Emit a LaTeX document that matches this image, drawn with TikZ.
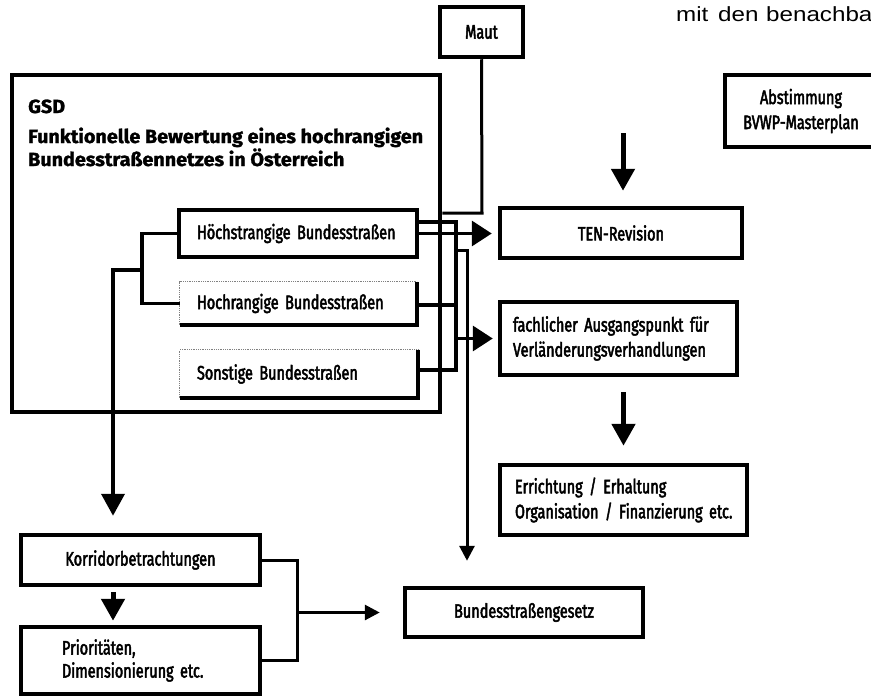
\documentclass[tikz,border=0pt]{standalone}
\usepackage{fontspec}
\setmainfont{Fira Sans}
\newfontfamily\diagfont[FakeStretch=0.74,FakeBold=2.5]{Fira Sans}
\newfontfamily\titlefont[FakeStretch=1.04,BoldFeatures={FakeBold=1.5}]{Fira Sans}
\newfontfamily\pagefont[FakeStretch=1.18]{Liberation Sans}
\newcommand\diagsize{\diagfont\fontsize{19.5}{25}\selectfont\spaceskip=4.5pt plus 1pt minus 1pt\relax}
\newcommand\diagsizetight{\diagfont\fontsize{19.5}{23}\selectfont\spaceskip=4.5pt plus 1pt minus 1pt\relax}
\usetikzlibrary{arrows.meta,calc}
\begin{document}
\begin{tikzpicture}[x=1pt,y=-1pt,
  box/.style={draw, line width=4.5pt, inner sep=0pt, font=\diagsize},
  openbox/.style={inner sep=0pt, font=\diagsize},
  frame/.style={line width=4.5pt},
  faint/.style={line width=0.8pt, densely dotted, gray},
  conn/.style={line width=3.5pt},
  bigarrow/.style={line width=5pt, -{Triangle[length=22pt,width=23pt]}},
  sidearrow/.style={line width=3.5pt, -{Triangle[length=20pt,width=25pt]}},
  smallarrow/.style={line width=3pt, -{Triangle[length=15pt,width=15pt]}},
  titletext/.style={anchor=base west, inner sep=0pt, font=\titlefont\bfseries\fontsize{19}{22}\selectfont}
]
\useasboundingbox (0,0) rectangle (871,696);

% page text at top right
\node[anchor=base west, inner sep=0pt, font=\pagefont\fontsize{20.5}{21}\selectfont] (pagetext) at (676,21) {\makebox[42pt][l]{mit}\makebox[48pt][l]{den}benachba};

% boxes
\node[box, minimum width=83pt, minimum height=50pt] (maut) at (481.5,32) {Maut};
\node[box, minimum width=152pt, minimum height=72pt, align=center] (abst) at (801,111) {Abstimmung\\BVWP-Masterplan};
\node[draw, line width=4.5pt, minimum width=428pt, minimum height=337pt, inner sep=0pt] (gsd) at (226,243.5) {};
\node[titletext] (gsdt) at (28,113) {GSD};
\node[titletext] (title1) at (28,143) {Funktionelle Bewertung eines hochrangigen};
\node[titletext] (title2) at (28,166) {Bundesstraßennetzes in Österreich};

\node[box, minimum width=238pt, minimum height=47pt, text width=202pt, inner xsep=18pt, align=left] (hs) at (298,233.5) {\mbox{Höchstrangige Bundesstraßen}};
\node[openbox, minimum width=237pt, minimum height=43pt, text width=203pt, inner xsep=17pt, align=left] (hr) at (298.5,303.5) {\mbox{Hochrangige Bundesstraßen}};
\node[openbox, minimum width=238pt, minimum height=48pt, text width=204pt, inner xsep=17pt, align=left] (so) at (299,374) {\mbox{Sonstige Bundesstraßen}};
\draw[frame] (hr.north east) -- (hr.south east) -- (hr.south west);
\draw[faint] (hr.south west) -- (hr.north west) -- (hr.north east);
\draw[frame] (so.north east) -- (so.south east) -- (so.south west);
\draw[faint] (so.south west) -- (so.north west) -- (so.north east);

\node[box, minimum width=242pt, minimum height=50pt] (ten) at (621,233) {TEN-Revision};
\node[box, minimum width=237pt, minimum height=73pt, text width=211pt, inner xsep=13pt, align=left] (fa) at (618.5,338.5) {\mbox{fachlicher Ausgangspunkt für}\\\mbox{Verländerungsverhandlungen}};
\node[box, minimum width=247pt, minimum height=70pt, text width=217pt, inner xsep=15pt, align=left] (er) at (623.5,500) {\mbox{Errichtung / Erhaltung}\\\mbox{Organisation / Finanzierung etc.}};
\node[box, minimum width=239pt, minimum height=50pt] (ko) at (140.5,560) {Korridorbetrachtungen};
\node[box, minimum width=239pt, minimum height=67pt, text width=157pt, inner xsep=41pt, align=left, font=\diagsizetight] (pr) at (140.5,660.5) {\mbox{Prioritäten,}\\\mbox{Dimensionierung etc.}};
\node[box, minimum width=238pt, minimum height=49pt] (bg) at (524,612.5) {Bundesstraßengesetz};

% coordinates
\coordinate (mautbend) at (482,213);
\coordinate (bustop) at (456,222);
\coordinate (busbot) at (456,370);
\coordinate (hrstub) at (456,305);
\coordinate (hook) at (456,250);
\coordinate (longline) at (467,250);
\coordinate (leftbus) at (142,270);
\coordinate (korrline) at (113,270);
\coordinate (bracket) at (297,614);
\coordinate (tenin) at (623,133);

% Maut to GSD
\draw[conn, line width=3pt] (maut.south) -- (mautbend) -- (mautbend -| gsd.east);

% Hoechstrangige -> TEN
\draw[sidearrow, shorten >=6pt] (hs.east) -- (hs.east -| ten.west);

% right bus
\draw[conn] (hs.east |- bustop) -- (bustop) -- (busbot) -- (so.east |- busbot);
\draw[conn] (hr.east |- hrstub) -- (hrstub);
\draw[sidearrow, shorten >=5pt] (fa.west -| bustop) -- (fa.west);
\draw[smallarrow, shorten >=25pt] (hook) -- (longline) -- (longline |- bg.north);

% left bracket
\draw[conn] (hs.west) -- (hs.west -| leftbus) -- (hr.west -| leftbus) -- (hr.west);
\draw[bigarrow, line width=4pt, shorten >=17pt] (leftbus) -- (korrline) -- (korrline |- ko.north);

% Korridor -> Prioritaeten
\draw[bigarrow, shorten <=5pt, shorten >=4pt] (ko.south -| korrline) -- (pr.north -| korrline);

% bracket to Bundesstrassengesetz
\draw[conn, line width=3pt] (ko.east) -- (ko.east -| bracket) -- (pr.east -| bracket) -- (pr.east);
\draw[smallarrow, shorten >=23pt] (bg.west -| bracket) -- (bg.west);

% free arrows
\draw[bigarrow, shorten >=15pt] (tenin) -- (tenin |- ten.north);
\draw[bigarrow, shorten <=15pt, shorten >=17pt] (er.north |- fa.south) -- (er.north);
\end{tikzpicture}
\end{document}
